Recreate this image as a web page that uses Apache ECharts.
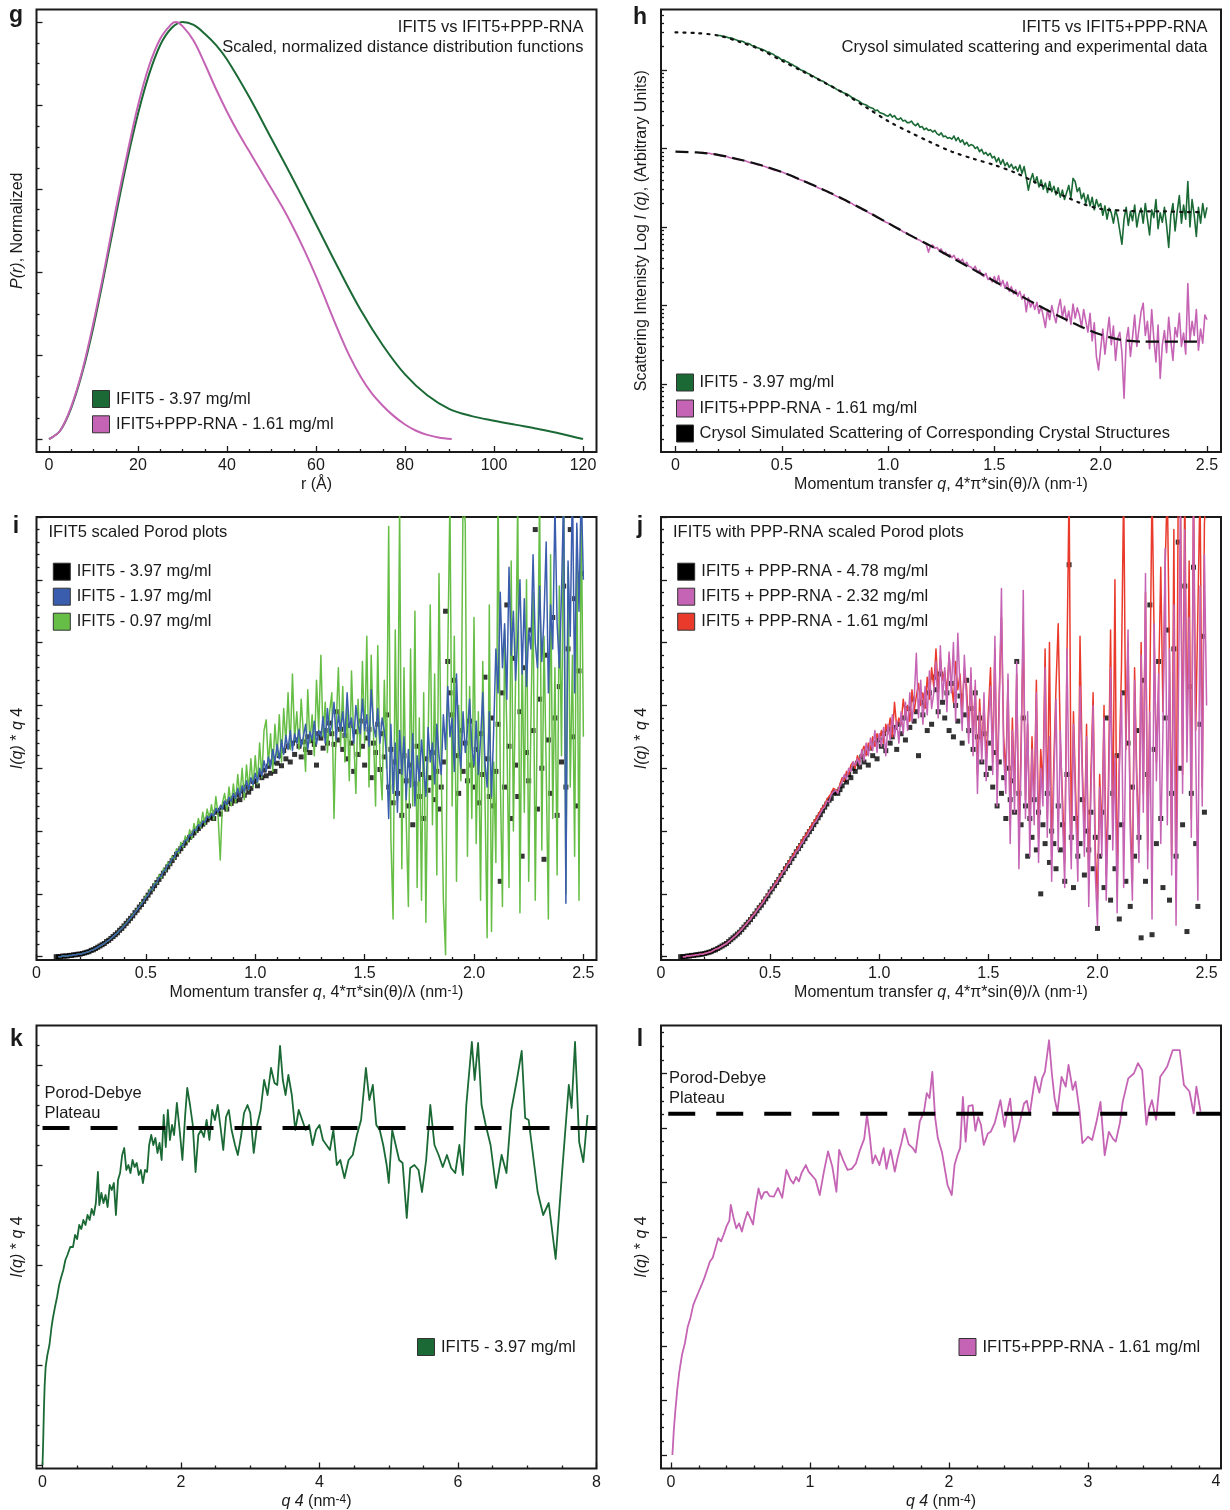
<!DOCTYPE html>
<html>
<head>
<meta charset="utf-8">
<title>IFIT5 SAXS panels g-l</title>
<script src="https://cdn.jsdelivr.net/npm/echarts@6/dist/echarts.min.js"></script>
<style>
html,body{margin:0;padding:0;background:#ffffff;}
#chart{width:1230px;height:1510px;}
</style>
</head>
<body>
<div id="chart"></div>
<script>
// ================= DATA =================
// --- panel g : P(r), normalized ---
const gR_IFIT5 = [0,2.5,5,7.5,10,12.5,15,17.5,20,22.5,25,27.5,30,32.5,35,37.5,40,45,50,55,60,65,70,75,80,85,90,95,100,105,110,115,120];
const gP_IFIT5 = [0,0.02,0.075,0.16,0.27,0.40,0.535,0.665,0.78,0.875,0.945,0.985,1.0,0.993,0.972,0.945,0.91,0.82,0.72,0.62,0.515,0.41,0.31,0.225,0.155,0.105,0.072,0.055,0.044,0.034,0.024,0.013,0.0];
const gR_RNA = [0,2.5,5,7.5,10,12.5,15,17.5,20,22.5,25,27.5,28.5,30,32.5,35,37.5,40,42.5,45,47.5,50,52.5,55,57.5,60,62.5,65,67.5,70,72.5,75,77.5,80,82.5,85,87.5,90.5];
const gP_RNA = [0,0.02,0.078,0.165,0.28,0.41,0.55,0.68,0.80,0.895,0.96,0.995,1.0,0.99,0.955,0.90,0.84,0.785,0.735,0.69,0.645,0.60,0.555,0.505,0.45,0.39,0.325,0.26,0.2,0.15,0.11,0.08,0.055,0.035,0.02,0.01,0.004,0];
const gXTicks = [0,20,40,60,80,100,120];
const gYTicks = [0,0.2,0.4,0.6,0.8,1.0];

// --- panel h : log10 I(q) ---
const hSimQ_IFIT5 = [0,0.1,0.2,0.3,0.4,0.5,0.6,0.7,0.8,0.9,1.0,1.1,1.2,1.3,1.4,1.5,1.6,1.7,1.8,1.9,2.0,2.1,2.2,2.3,2.4,2.48];
const hSimL_IFIT5 = [4.48,4.47,4.44,4.36,4.26,4.12,3.98,3.84,3.69,3.52,3.35,3.21,3.08,2.96,2.87,2.79,2.69,2.56,2.43,2.31,2.23,2.21,2.20,2.20,2.19,2.19];
const hSimQ_RNA = [0,0.1,0.2,0.3,0.4,0.5,0.6,0.7,0.8,0.9,1.0,1.1,1.2,1.3,1.4,1.5,1.6,1.7,1.8,1.9,2.0,2.1,2.2,2.3,2.4,2.48];
const hSimL_RNA = [2.96,2.95,2.92,2.86,2.79,2.70,2.59,2.47,2.34,2.20,2.05,1.90,1.76,1.61,1.46,1.31,1.16,1.01,0.87,0.74,0.63,0.56,0.54,0.54,0.54,0.54];
const hQ0_IFIT5 = 0.20, hQ0_RNA = 0.12, hDQ = 0.01;
const hL_IFIT5 = [
4.44,4.44,4.43,4.43,4.42,4.41,4.41,4.40,4.39,4.38,
4.37,4.37,4.36,4.34,4.34,4.33,4.31,4.31,4.29,4.28,
4.27,4.26,4.25,4.23,4.23,4.21,4.20,4.18,4.17,4.15,
4.13,4.13,4.11,4.10,4.08,4.07,4.05,4.04,4.02,4.00,
3.99,3.98,3.96,3.95,3.93,3.92,3.90,3.89,3.87,3.86,
3.85,3.83,3.81,3.80,3.79,3.77,3.75,3.74,3.73,3.71,
3.70,3.69,3.67,3.65,3.64,3.62,3.61,3.59,3.57,3.56,
3.55,3.53,3.52,3.51,3.48,3.49,3.46,3.45,3.44,3.42,
3.41,3.44,3.40,3.42,3.38,3.37,3.39,3.35,3.36,3.33,
3.33,3.35,3.31,3.29,3.32,3.27,3.28,3.24,3.26,3.23,
3.24,3.21,3.23,3.19,3.17,3.20,3.15,3.16,3.13,3.14,
3.12,3.16,3.10,3.14,3.08,3.11,3.05,3.08,3.03,3.05,
3.04,3.00,3.02,2.96,2.99,2.93,2.95,2.91,2.94,2.88,
2.90,2.83,2.88,2.80,2.86,2.78,2.82,2.76,2.80,2.74,
2.77,2.71,2.79,2.68,2.77,2.63,2.47,2.60,2.68,2.56,
2.64,2.51,2.60,2.48,2.56,2.44,2.58,2.45,2.52,2.41,
2.50,2.38,2.47,2.35,2.44,2.53,2.37,2.62,2.58,2.45,
2.50,2.36,2.43,2.30,2.41,2.27,2.38,2.22,2.35,2.26,
2.30,2.15,2.27,2.10,2.24,2.18,2.05,2.22,2.12,1.95,
1.78,2.10,2.25,2.02,2.20,2.08,2.28,2.00,2.16,2.24,
2.05,2.30,2.10,1.90,2.22,2.12,2.35,1.98,2.18,2.06,
2.25,2.02,1.74,2.15,2.30,1.95,2.20,2.40,2.05,2.28,
2.10,2.58,2.00,2.35,2.15,1.88,2.25,2.05,2.30,2.12,
2.25];
const hL_RNA = [
2.95,2.95,2.94,2.94,2.94,2.93,2.93,2.92,
2.92,2.91,2.91,2.90,2.90,2.89,2.88,2.88,2.87,2.86,
2.86,2.85,2.85,2.84,2.83,2.82,2.82,2.81,2.80,2.79,
2.79,2.78,2.77,2.76,2.75,2.74,2.73,2.72,2.72,2.71,
2.70,2.69,2.68,2.67,2.66,2.65,2.63,2.62,2.61,2.60,
2.59,2.58,2.57,2.55,2.54,2.53,2.52,2.50,2.49,2.48,
2.47,2.46,2.44,2.43,2.42,2.40,2.39,2.38,2.36,2.35,
2.34,2.32,2.31,2.30,2.28,2.27,2.25,2.24,2.22,2.21,
2.20,2.18,2.17,2.15,2.14,2.12,2.11,2.09,2.08,2.06,
2.05,2.04,2.02,2.00,1.99,1.98,1.96,1.94,1.93,1.92,
1.90,1.89,1.87,1.86,1.84,1.83,1.81,1.80,1.78,1.68,
1.76,1.77,1.73,1.74,1.70,1.72,1.66,1.68,1.64,1.65,
1.61,1.64,1.58,1.60,1.56,1.59,1.52,1.55,1.50,1.49,
1.46,1.50,1.42,1.45,1.39,1.37,1.41,1.33,1.36,1.30,
1.37,1.28,1.38,1.25,1.32,1.22,1.30,1.18,1.24,1.15,
1.20,1.12,1.18,1.08,1.14,0.92,1.10,0.98,1.05,0.95,
1.04,0.90,0.99,0.86,0.72,0.95,0.82,1.00,0.88,0.78,
0.96,1.08,0.85,0.99,0.80,0.93,0.76,1.02,0.84,0.97,
0.88,0.72,0.95,0.80,0.66,0.90,0.55,0.78,0.35,0.18,
0.45,0.70,0.38,0.62,0.85,0.50,0.74,0.30,0.58,0.66,
0.40,-0.18,0.55,0.72,0.35,0.60,0.88,0.48,0.70,0.92,
1.03,0.62,0.80,0.45,0.95,0.58,0.28,0.75,0.07,0.50,
0.68,0.40,0.85,0.55,0.30,0.72,0.60,0.90,0.48,0.65,
0.38,1.28,0.55,0.80,0.62,0.95,0.43,0.70,0.52,0.88,
0.82];
const hXTicks = [0,0.5,1,1.5,2,2.5];
const hYTicks = [0,1,2,3,4];

// --- panel i : IFIT5 Porod, I(q)*q^4 ---
const iQ0_397 = 0.09, iQ0_197 = 0.10, iQ0_097 = 0.10, iDQ = 0.01;
const iY_397 = [
0.00,0.00,0.00,0.01,0.01,0.01,0.02,0.02,0.03,0.03,0.04,
0.04,0.05,0.06,0.07,0.08,0.10,0.11,0.13,0.15,0.17,
0.19,0.21,0.24,0.26,0.29,0.32,0.35,0.38,0.42,0.45,
0.49,0.53,0.57,0.61,0.65,0.70,0.74,0.79,0.83,0.88,
0.93,0.98,1.03,1.08,1.13,1.18,1.23,1.28,1.33,1.38,
1.43,1.48,1.53,1.58,1.63,1.68,1.72,1.77,1.81,1.86,
1.90,1.93,1.97,2.01,2.04,2.08,2.11,2.14,2.18,2.21,
2.24,2.20,2.30,2.33,2.27,2.38,2.43,2.35,2.47,2.44,
2.52,2.48,2.58,2.50,2.64,2.57,2.70,2.62,2.68,2.79,
2.80,2.72,2.90,2.85,2.97,2.88,3.03,2.92,3.10,2.95,
3.08,3.20,3.04,3.28,3.15,3.35,3.10,3.40,3.22,3.45,
3.35,3.18,3.42,3.30,3.50,3.25,3.44,3.38,3.05,3.55,
3.48,3.32,3.60,3.40,3.72,3.55,3.38,3.90,3.45,3.62,
3.30,3.52,3.15,3.68,3.40,2.95,3.58,3.22,3.75,3.35,
3.05,3.48,3.62,2.85,3.40,3.25,3.70,2.98,3.55,3.18,
3.85,2.70,3.30,2.45,3.10,2.60,2.95,2.25,3.20,2.80,
2.40,3.05,2.10,2.75,3.35,2.55,2.90,2.20,3.15,2.65,
2.85,3.25,2.50,2.95,2.35,2.70,3.10,5.50,4.70,4.20,
3.85,4.40,3.20,2.60,3.60,2.95,3.40,2.80,3.75,3.05,
2.70,3.30,2.45,3.55,2.90,4.45,3.15,2.55,3.80,2.40,
2.95,3.70,1.20,4.20,2.70,5.60,3.35,2.20,4.75,3.05,
2.55,3.90,1.60,4.60,3.25,2.80,5.20,3.60,6.80,2.35,
4.10,3.00,1.55,4.80,3.45,2.60,5.40,3.80,2.25,4.30,
3.10,5.90,2.70,4.90,6.80,3.50,5.70,2.40,4.55,6.10];
const iY_197 = [
0.00,0.00,0.01,0.01,0.01,0.02,0.02,0.03,0.03,0.04,
0.04,0.05,0.06,0.07,0.08,0.10,0.11,0.13,0.15,0.17,
0.19,0.21,0.24,0.26,0.29,0.32,0.35,0.38,0.42,0.45,
0.49,0.53,0.57,0.62,0.65,0.71,0.74,0.80,0.83,0.89,
0.94,0.98,1.05,1.08,1.15,1.18,1.26,1.28,1.36,1.38,
1.46,1.49,1.56,1.58,1.67,1.68,1.76,1.77,1.85,1.86,
1.94,1.93,2.02,2.01,2.10,2.08,2.15,2.14,2.23,2.21,
2.28,2.24,2.36,2.30,2.40,2.35,2.48,2.42,2.54,2.47,
2.60,2.52,2.68,2.55,2.72,2.62,2.80,2.66,2.85,2.74,
2.92,2.78,3.00,2.88,3.12,2.95,3.18,3.02,3.30,3.10,
3.38,3.15,3.45,3.22,3.52,3.30,3.60,3.28,3.55,3.40,
3.62,3.35,3.50,3.70,3.30,3.58,3.45,3.75,3.38,3.60,
3.50,3.82,3.40,3.95,3.55,3.70,4.05,3.45,3.85,3.60,
3.90,3.50,4.20,3.65,3.80,3.40,4.00,3.70,3.55,4.10,
3.60,3.85,3.35,4.25,3.70,3.50,3.95,3.40,3.80,3.60,
3.20,2.20,3.70,2.60,3.40,2.30,3.60,2.90,3.50,2.50,
3.30,2.70,3.55,2.40,3.20,2.80,3.45,3.00,2.55,3.65,
3.10,3.40,2.75,3.70,3.20,2.90,3.85,3.30,4.30,3.50,
3.80,2.95,4.50,3.40,3.00,3.90,3.25,3.60,4.10,3.35,
3.05,3.75,2.90,3.45,4.20,3.10,2.70,3.90,2.55,3.60,
4.90,4.20,5.80,4.60,5.30,4.10,6.20,4.80,5.50,4.40,
5.10,6.00,4.50,5.70,4.30,5.20,4.90,6.40,5.00,4.60,
5.90,4.70,5.40,6.60,4.20,5.60,4.90,7.20,5.30,4.60,
5.80,7.40,0.85,6.30,5.10,7.60,4.20,6.90,5.50,7.50,
6.00];
const iY_097 = [
0.00,0.00,0.01,0.01,0.01,0.02,0.02,0.03,0.03,0.04,
0.04,0.05,0.06,0.07,0.08,0.10,0.11,0.13,0.15,0.17,
0.19,0.21,0.24,0.26,0.29,0.32,0.35,0.38,0.42,0.45,
0.50,0.53,0.58,0.61,0.67,0.70,0.76,0.79,0.86,0.88,
0.97,0.98,1.08,1.06,1.18,1.16,1.30,1.25,1.40,1.36,
1.50,1.46,1.60,1.55,1.72,1.64,1.82,1.74,1.92,1.82,
2.02,1.88,2.12,1.98,2.20,2.05,2.30,2.10,2.35,2.20,
2.42,2.18,2.55,2.25,1.54,2.45,2.60,2.32,2.70,2.40,
2.75,2.45,2.90,2.55,3.00,2.50,3.05,2.65,3.15,2.70,
3.20,2.75,3.40,2.85,3.60,3.77,3.05,3.55,2.95,3.70,
3.20,3.85,3.10,3.95,3.40,4.20,3.30,4.50,3.45,3.90,
3.30,4.10,3.55,2.95,4.25,3.40,3.85,3.20,4.40,3.60,
4.80,3.50,4.05,3.25,3.90,4.20,2.20,3.70,4.60,3.35,
4.30,3.10,3.95,2.80,4.55,3.50,2.60,4.10,3.20,4.70,
3.40,5.10,2.70,4.80,3.60,2.40,4.95,3.10,2.50,4.40,
3.00,6.85,1.90,0.60,5.20,2.50,7.20,1.40,4.60,2.20,
0.80,4.90,2.40,5.50,1.10,3.80,0.90,4.20,0.55,3.40,
5.60,2.10,4.50,1.30,6.10,3.00,0.90,0.03,4.80,7.30,
2.40,5.10,1.20,4.00,2.80,7.40,6.90,1.60,4.30,2.20,
5.40,1.80,3.90,0.90,4.70,2.60,0.30,5.60,0.40,3.10,
1.50,7.50,2.90,0.80,5.20,3.60,1.10,6.30,2.00,4.40,
7.30,0.70,4.90,2.30,6.00,1.20,3.70,5.80,0.90,4.20,
7.40,1.70,5.10,3.00,0.60,6.40,2.20,4.60,1.30,5.90,
3.20,7.50,1.00,6.20,2.70,4.80,1.60,6.80,0.90,7.30,
3.50];
const iXTicks = [0,0.5,1,1.5,2,2.5];
const iYTicks = [0,1,2,3,4,5,6,7];

// --- panel j : IFIT5 + PPP-RNA Porod, I(q)*q^4 ---
const jQ0_478 = 0.09, jQ0_232 = 0.10, jQ0_161 = 0.10, jDQ = 0.01;
const jY_478 = [
0.00,0.00,0.00,0.01,0.01,0.02,0.02,0.03,0.03,0.04,0.04,
0.05,0.06,0.07,0.08,0.10,0.11,0.13,0.15,0.17,0.19,
0.21,0.24,0.27,0.30,0.33,0.36,0.39,0.43,0.47,0.51,
0.55,0.59,0.64,0.68,0.73,0.78,0.82,0.87,0.92,0.97,
1.03,1.08,1.13,1.18,1.23,1.29,1.34,1.40,1.45,1.50,
1.56,1.61,1.67,1.72,1.77,1.83,1.88,1.94,1.99,2.04,
2.10,2.15,2.21,2.26,2.32,2.38,2.43,2.49,2.52,2.60,
2.62,2.60,2.66,2.72,2.82,2.78,2.90,2.85,3.00,2.95,
3.08,3.02,3.18,3.10,3.25,3.05,3.32,3.20,3.40,3.15,
3.45,3.35,3.55,3.28,3.62,3.40,3.50,3.65,3.30,3.70,
3.55,3.80,3.45,3.95,3.65,4.10,3.75,3.90,3.20,4.05,
3.85,4.00,3.60,4.20,3.70,4.45,4.25,3.90,4.50,4.05,
3.80,4.20,3.60,4.35,3.50,4.00,3.75,4.15,3.40,3.85,
4.40,3.60,3.95,3.30,4.20,3.50,3.80,3.10,3.55,2.90,
3.40,3.00,2.70,3.25,2.40,3.10,2.60,2.85,2.20,3.00,
2.50,2.80,2.30,4.70,2.60,2.10,3.80,2.40,1.60,2.20,
1.90,2.50,1.70,2.30,1.00,2.10,1.80,2.60,1.50,2.00,
1.80,1.40,2.40,1.70,2.10,1.20,2.90,6.24,1.90,1.10,
2.20,1.60,1.80,2.50,1.30,2.00,1.70,2.30,1.40,1.90,
0.45,1.60,2.30,1.10,3.80,1.90,0.90,2.60,1.40,3.20,
0.60,2.10,4.20,1.20,3.40,0.80,2.70,1.60,3.60,1.90,
0.30,4.40,1.20,2.90,5.60,0.35,3.30,1.80,4.70,2.20,
1.10,3.80,5.20,0.90,2.60,4.90,1.60,6.60,3.00,2.10,
5.90,0.40,4.30,2.60,6.20,1.80,0.80,3.70,5.10,2.30];
const jY_232 = [
0.00,0.00,0.01,0.01,0.02,0.02,0.03,0.03,0.04,0.04,
0.05,0.06,0.07,0.08,0.10,0.12,0.13,0.15,0.17,0.19,
0.21,0.24,0.27,0.30,0.33,0.36,0.40,0.43,0.48,0.51,
0.56,0.59,0.65,0.68,0.74,0.78,0.83,0.87,0.94,0.98,
1.05,1.07,1.15,1.17,1.25,1.28,1.36,1.38,1.47,1.49,
1.58,1.60,1.68,1.70,1.78,1.82,1.90,1.93,2.00,2.04,
2.12,2.15,2.22,2.28,2.35,2.38,2.48,2.46,2.58,2.62,
2.65,2.60,2.72,2.78,2.90,2.82,3.00,2.95,3.10,3.05,
3.15,3.05,3.30,3.12,3.40,3.20,3.48,3.28,3.60,3.25,
3.55,3.35,3.65,3.20,3.70,3.45,3.85,3.50,3.75,3.40,
3.90,3.55,4.05,3.60,4.20,3.75,4.10,4.83,3.80,4.40,
3.70,4.30,3.85,4.55,3.95,4.20,4.70,3.80,4.95,4.10,
4.60,3.90,4.85,4.20,5.00,3.75,5.15,4.30,3.60,4.80,
4.10,3.40,4.60,3.20,4.40,2.60,3.90,3.10,4.20,2.80,
3.70,4.30,2.90,5.10,2.40,4.00,5.86,3.20,2.60,4.50,
1.80,3.60,2.30,4.70,1.40,3.10,5.83,2.20,3.90,1.60,
3.30,2.10,4.20,1.50,3.00,2.40,4.60,1.90,3.50,1.20,
2.80,4.10,1.70,3.60,2.20,1.10,4.90,2.60,1.40,3.70,
2.30,1.20,4.30,2.90,1.60,3.50,0.80,2.60,4.00,1.30,
0.50,2.70,1.60,3.80,0.90,2.40,4.60,1.70,3.20,0.70,
2.90,4.20,1.10,3.50,5.20,2.00,0.90,4.40,2.70,1.50,
4.80,2.30,6.10,1.40,3.90,0.60,5.30,2.80,4.50,1.80,
3.60,6.50,2.10,4.90,1.30,5.60,0.50,3.80,7.30,2.60,
6.80,3.10,5.40,1.90,7.30,3.30,0.90,5.90,2.40,6.40,
4.00];
const jY_161 = [
0.00,0.00,0.01,0.01,0.02,0.02,0.03,0.03,0.04,0.04,
0.05,0.06,0.07,0.08,0.10,0.12,0.13,0.15,0.17,0.19,
0.21,0.24,0.27,0.30,0.33,0.37,0.40,0.44,0.48,0.52,
0.56,0.61,0.65,0.70,0.74,0.80,0.83,0.90,0.94,1.00,
1.04,1.10,1.14,1.21,1.25,1.32,1.36,1.43,1.47,1.54,
1.58,1.65,1.69,1.76,1.80,1.88,1.92,1.98,2.03,2.10,
2.14,2.20,2.26,2.32,2.38,2.42,2.50,2.55,2.60,2.68,
2.66,2.62,2.75,2.85,2.80,2.95,2.90,3.05,3.10,3.00,
3.20,3.10,3.25,3.35,3.20,3.40,3.30,3.50,3.35,3.55,
3.45,3.60,3.40,3.70,3.55,3.80,3.50,4.05,3.65,3.80,
3.70,4.10,3.85,4.00,3.75,4.25,3.90,4.15,4.35,4.00,
4.20,3.95,4.45,4.10,4.60,4.30,4.90,4.20,4.75,4.40,
4.55,4.20,4.80,4.35,4.05,4.70,4.25,4.50,3.90,4.60,
4.30,3.60,4.50,3.40,4.30,2.90,4.10,3.30,4.00,3.10,
3.90,4.60,3.10,4.90,2.70,4.20,5.40,3.50,2.90,4.40,
2.10,3.80,2.60,4.50,1.90,3.40,5.20,2.50,3.70,2.00,
3.50,2.40,4.40,1.90,3.30,2.70,4.90,2.20,5.00,1.60,
3.10,4.30,5.30,3.40,2.50,1.50,4.70,7.50,1.80,3.90,
2.60,1.60,5.10,3.10,1.90,3.70,1.20,2.90,4.20,1.70,
0.90,2.90,1.90,4.00,1.30,2.70,5.20,2.00,6.00,1.10,
3.10,4.60,7.50,3.30,5.00,2.30,1.20,4.60,2.90,1.80,
5.00,2.60,5.80,1.70,4.20,7.50,5.00,3.10,4.30,6.20,
3.90,6.20,7.50,4.70,1.60,6.80,0.90,7.50,7.50,2.90,
7.50,3.40,6.30,2.20,7.50,3.60,5.50,7.50,2.70,6.90,
7.50];
const jXTicks = [0,0.5,1,1.5,2,2.5];
const jYTicks = [0,1,2,3,4,5,6,7];

// --- panel k : IFIT5 Porod-Debye, I(q)*q^4 vs q^4 ---
const kX = [0,0.01,0.02,0.03,0.045,0.07,0.10,0.13,0.15,0.18,
0.21,0.24,0.27,0.30,0.33,0.36,0.40,0.44,0.47,0.50,
0.53,0.56,0.59,0.62,0.65,0.68,0.71,0.74,0.77,0.80,
0.82,0.85,0.88,0.91,0.94,0.97,1.00,1.03,1.06,1.09,
1.12,1.15,1.18,1.21,1.24,1.27,1.30,1.33,1.36,1.39,
1.42,1.45,1.48,1.51,1.54,1.57,1.60,1.63,1.66,1.69,
1.72,1.75,1.78,1.81,1.84,1.87,1.90,1.94,1.98,2.02,
2.06,2.09,2.13,2.17,2.21,2.25,2.29,2.33,2.37,2.41,
2.45,2.49,2.53,2.57,2.61,2.65,2.69,2.73,2.78,2.82,
2.87,2.91,2.96,3.00,3.05,3.10,3.15,3.20,3.25,3.30,
3.35,3.39,3.43,3.47,3.51,3.55,3.60,3.65,3.70,3.75,
3.80,3.85,3.90,3.95,4.00,4.05,4.10,4.15,4.20,4.25,
4.30,4.36,4.42,4.48,4.54,4.60,4.67,4.72,4.77,4.82,
4.87,4.92,4.97,5.00,5.05,5.10,5.15,5.20,5.26,5.31,
5.37,5.43,5.48,5.54,5.60,5.66,5.72,5.78,5.84,5.90,
5.96,6.02,6.07,6.12,6.20,6.24,6.29,6.34,6.40,6.47,
6.55,6.63,6.70,6.77,6.85,6.92,6.97,7.02,7.15,7.23,
7.31,7.41,7.50,7.60,7.64,7.69,7.75,7.81,7.87];
const kY = [0,0.25,0.55,0.78,0.98,1.10,1.20,1.38,1.47,1.58,
1.68,1.80,1.88,1.95,2.05,2.10,2.18,2.18,2.30,2.26,
2.40,2.36,2.45,2.40,2.50,2.45,2.56,2.50,2.62,2.93,
2.60,2.72,2.62,2.70,2.58,2.80,2.75,2.82,2.50,2.85,
2.92,3.10,3.17,2.95,3.00,2.92,3.05,2.98,3.02,2.90,
2.95,2.82,2.95,2.93,3.20,3.30,3.20,3.27,3.12,3.22,
3.05,3.50,3.18,3.55,3.25,3.40,3.30,3.62,3.35,3.05,
3.50,3.77,3.60,3.40,2.93,3.30,3.35,3.28,3.45,3.25,
3.55,3.45,3.60,3.38,3.15,3.48,3.55,3.35,3.20,3.10,
3.30,3.52,3.60,3.52,3.12,3.40,3.55,3.85,3.70,3.97,
3.82,3.80,4.19,3.85,3.70,3.90,3.70,3.35,3.55,3.45,
3.35,3.40,3.20,3.35,3.40,3.25,3.20,3.15,3.35,3.00,
3.05,2.87,3.05,3.10,3.30,3.45,3.97,3.65,3.80,3.40,
3.35,3.20,3.00,2.82,3.35,3.20,3.05,3.02,2.47,2.97,
3.00,2.95,2.73,3.05,3.60,3.20,3.10,2.98,3.10,2.97,
2.92,3.20,2.90,3.60,4.23,3.85,4.22,3.60,3.40,3.20,
2.77,3.10,2.92,3.55,3.85,4.14,3.47,3.45,2.73,2.50,
2.62,2.06,2.90,3.80,3.57,4.23,3.23,3.03,3.50];
const kPlateau = 3.37;
const kPlateauX = [0, 8];
const kXTicks = [0,2,4,6,8];
const kYTicks = [0,1,2,3,4];

// --- panel l : IFIT5+PPP-RNA Porod-Debye ---
const lX = [0.01,0.02,0.03,0.045,0.06,0.08,0.10,0.12,0.14,0.16,
0.18,0.20,0.22,0.24,0.26,0.28,0.30,0.32,0.34,0.36,
0.38,0.40,0.42,0.43,0.45,0.47,0.49,0.51,0.53,0.55,
0.57,0.59,0.61,0.63,0.65,0.67,0.69,0.71,0.74,0.77,
0.80,0.83,0.86,0.88,0.90,0.92,0.94,0.97,0.99,1.01,
1.04,1.07,1.10,1.13,1.16,1.19,1.21,1.24,1.27,1.30,
1.33,1.36,1.39,1.41,1.43,1.45,1.47,1.50,1.53,1.55,
1.58,1.61,1.63,1.66,1.68,1.71,1.74,1.76,1.79,1.82,
1.84,1.86,1.88,1.90,1.92,1.95,1.99,2.02,2.04,2.06,
2.08,2.10,2.12,2.14,2.17,2.19,2.21,2.23,2.25,2.28,
2.30,2.33,2.37,2.40,2.42,2.44,2.47,2.50,2.54,2.56,
2.58,2.62,2.65,2.67,2.69,2.72,2.74,2.76,2.78,2.81,
2.84,2.86,2.89,2.91,2.94,2.96,3.00,3.03,3.06,3.09,
3.12,3.15,3.18,3.20,3.23,3.25,3.29,3.33,3.36,3.39,
3.42,3.44,3.46,3.49,3.52,3.55,3.57,3.61,3.66,3.69,
3.73,3.76,3.78,3.81];
const lY = [0.00,0.45,0.78,1.20,1.53,1.85,2.05,2.35,2.52,2.75,
2.88,3.00,3.12,3.25,3.40,3.55,3.62,3.80,3.98,3.92,
4.05,4.20,4.30,4.59,4.35,4.16,4.25,4.10,4.30,4.46,
4.35,4.23,4.60,4.89,4.70,4.82,4.83,4.75,4.74,4.90,
4.72,5.23,5.05,4.98,5.10,5.02,5.18,5.32,5.20,5.14,
5.05,4.77,5.20,5.57,5.30,4.83,5.60,5.40,5.23,5.25,
5.35,5.60,5.80,6.24,5.85,5.35,5.50,5.32,5.63,5.25,
5.60,5.20,5.45,5.75,5.99,5.70,5.63,5.55,6.12,6.30,
6.64,6.55,7.03,6.20,5.81,5.55,4.95,4.77,5.32,5.50,
5.63,6.57,5.75,6.40,6.42,5.95,6.20,6.06,5.69,5.90,
5.93,6.10,6.51,6.02,6.30,6.54,5.75,6.00,6.45,6.50,
6.24,6.94,6.65,6.91,7.03,7.61,7.00,6.54,6.30,6.94,
6.76,7.16,6.70,6.85,6.30,5.72,5.84,5.78,6.10,6.48,
5.50,5.93,5.80,5.75,6.10,6.48,6.91,7.00,7.19,7.06,
6.06,6.35,6.51,6.15,6.94,7.05,7.13,7.43,7.43,6.79,
6.67,6.27,6.76,6.30];
const lPlateau = 6.26;
const lPlateauX = [-0.02, 3.957];
const lXTicks = [0,1,2,3];
const lYTicks = [0,1,2,3,4,5,6,7];

// ================= STYLE =================
const FONT = '"Liberation Sans", Arial, Helvetica, sans-serif';
const INK = '#1a1a1a';
const DKGREEN = '#1b6a36', PINK = '#c564b4', BLUE = '#3b5dad', LTGREEN = '#67be46', RED = '#ea3a2c';

function zip(xs, ys) { return xs.map((x, i) => [x, ys[i]]); }
function onGrid(q0, dq, vals) { return vals.map((v, i) => [+(q0 + i * dq).toFixed(4), v]); }
function between(a, b, step, majors, lo, hi) {
  const out = [], n = Math.round((b - a) / step);
  for (let k = 0; k <= n; k++) {
    const v = +(a + k * step).toFixed(6);
    if (v < lo || v > hi) continue;
    if (!majors.some(m => Math.abs(m - v) < 1e-6)) out.push(v);
  }
  return out;
}
function logMinors(lo, hi) {
  const out = [];
  for (let d = -1; d <= 5; d++) for (let k = 2; k <= 9; k++) {
    const v = d + Math.log10(k);
    if (v > lo && v < hi) out.push(+v.toFixed(5));
  }
  return out;
}
const fmtQ = v => (v === 0 ? '0' : v.toFixed(1));
const fmtInt = v => String(Math.round(v));

const RICH = {
  a: { fontSize: 16, fontFamily: FONT, color: INK },
  it: { fontStyle: 'italic', fontSize: 16, fontFamily: FONT, color: INK },
  sup: { fontSize: 12, fontFamily: FONT, color: INK, verticalAlign: 'top' }
};
const NAME_X = '{a|Momentum transfer }{it|q}{a|, 4*π*sin(θ)/λ (nm}{sup|-1}{a|)}';
const NAME_IQ4 = '{it|I(q)}{a| * }{it|q}{a| 4}';
const NAME_Q4 = '{it|q 4}{a| (nm}{sup|-4}{a|)}';

const panels = [
  { g: { left: 36.5, top: 9.5, width: 560, height: 442.5 },
    x: { min: -2.81, max: 123.03, major: gXTicks, minor: between(0, 120, 5, gXTicks, -2.81, 123.03), fmt: fmtInt, name: '{a|r (Å)}' },
    y: { min: -0.031, max: 1.030, major: gYTicks, minor: between(0, 1, 0.05, gYTicks, -0.031, 1.03), name: '{it|P(r)}{a|, Normalized}' } },
  { g: { left: 661, top: 9.5, width: 560, height: 442.5 },
    x: { min: -0.068, max: 2.566, major: hXTicks, minor: between(0, 2.5, 0.1, hXTicks, -0.068, 2.566), fmt: fmtQ, name: NAME_X },
    y: { min: -0.866, max: 4.771, major: hYTicks, minor: logMinors(-0.866, 4.771), name: '{a|Scattering Intenisty Log }{it|I (q)}{a|, (Arbitrary Units)}' } },
  { g: { left: 36.5, top: 517, width: 560, height: 443 },
    x: { min: 0, max: 2.56, major: iXTicks, minor: between(0, 2.5, 0.1, iXTicks, 0, 2.56), fmt: fmtQ, name: NAME_X },
    y: { min: -0.053, max: 7.0, major: iYTicks, minor: between(0, 7, 0.2, iYTicks, -0.053, 7), name: NAME_IQ4 } },
  { g: { left: 661, top: 517, width: 560, height: 443 },
    x: { min: 0, max: 2.566, major: jXTicks, minor: between(0, 2.5, 0.1, jXTicks, 0, 2.566), fmt: fmtQ, name: NAME_X },
    y: { min: -0.053, max: 7.0, major: jYTicks, minor: between(0, 7, 0.2, jYTicks, -0.053, 7), name: NAME_IQ4 } },
  { g: { left: 36.5, top: 1025.5, width: 560, height: 443 },
    x: { min: -0.087, max: 8, major: kXTicks, minor: between(0, 8, 0.5, kXTicks, -0.087, 8), fmt: fmtInt, name: NAME_Q4 },
    y: { min: -0.035, max: 4.395, major: kYTicks, minor: between(0, 4.4, 0.2, kYTicks, -0.035, 4.395), name: NAME_IQ4 } },
  { g: { left: 661, top: 1025.5, width: 560, height: 443 },
    x: { min: -0.072, max: 3.957, major: lXTicks, minor: between(0, 3.8, 0.2, lXTicks, -0.072, 3.957), fmt: fmtInt, name: NAME_Q4 },
    y: { min: -0.248, max: 7.881, major: lYTicks, minor: between(0, 7.75, 0.25, lYTicks, -0.248, 7.881), name: NAME_IQ4 } }
];

const grid = [], xAxis = [], yAxis = [];
panels.forEach((p, gi) => {
  grid.push(Object.assign({ show: true, borderColor: INK, borderWidth: 2, backgroundColor: 'rgba(0,0,0,0)', containLabel: false, outerBoundsMode: 'none' }, p.g));
  const tickStyle = { color: INK, width: 1.3 };
  const hiddenLine = { show: false, onZero: false };
  xAxis.push({
    type: 'value', gridIndex: gi, min: p.x.min, max: p.x.max, position: 'bottom',
    axisLine: hiddenLine, splitLine: { show: false },
    axisTick: { show: true, inside: true, length: 6, customValues: p.x.major, lineStyle: tickStyle },
    axisLabel: { show: true, customValues: p.x.major, formatter: p.x.fmt, margin: 6, color: INK, fontSize: 16, fontFamily: FONT },
    name: p.x.name, nameLocation: 'middle', nameGap: 25, nameMoveOverlap: false,
    nameTextStyle: { fontSize: 16, fontFamily: FONT, color: INK, rich: RICH }
  });
  xAxis.push({
    type: 'value', gridIndex: gi, min: p.x.min, max: p.x.max, position: 'bottom',
    axisLine: hiddenLine, splitLine: { show: false },
    axisTick: { show: true, inside: true, length: 3, customValues: p.x.minor, lineStyle: tickStyle },
    axisLabel: { show: false }
  });
  yAxis.push({
    type: 'value', gridIndex: gi, min: p.y.min, max: p.y.max, position: 'left',
    axisLine: hiddenLine, splitLine: { show: false },
    axisTick: { show: true, inside: true, length: 6, customValues: p.y.major, lineStyle: tickStyle },
    axisLabel: { show: false },
    name: p.y.name, nameLocation: 'middle', nameGap: 11, nameMoveOverlap: false,
    nameTextStyle: { fontSize: 16, fontFamily: FONT, color: INK, rich: RICH }
  });
  yAxis.push({
    type: 'value', gridIndex: gi, min: p.y.min, max: p.y.max, position: 'left',
    axisLine: hiddenLine, splitLine: { show: false },
    axisTick: { show: true, inside: true, length: 3, customValues: p.y.minor, lineStyle: tickStyle },
    axisLabel: { show: false }
  });
});

function lineS(panel, name, data, color, width, extra) {
  return Object.assign({
    type: 'line', name, xAxisIndex: panel * 2, yAxisIndex: panel * 2, data,
    symbol: 'none', showSymbol: false, clip: true, silent: true, animation: false,
    lineStyle: { color, width, join: 'round' }, emphasis: { disabled: true }
  }, extra || {});
}
function squares(panel, name, data) {
  return {
    type: 'scatter', name, xAxisIndex: panel * 2, yAxisIndex: panel * 2, data,
    symbol: 'rect', symbolSize: 5, itemStyle: { color: '#000' }, clip: true, silent: true, animation: false,
    emphasis: { disabled: true }
  };
}

const series = [
  // g
  lineS(0, 'g IFIT5 - 3.97 mg/ml', zip(gR_IFIT5, gP_IFIT5), DKGREEN, 2, { smooth: 0.35 }),
  lineS(0, 'g IFIT5+PPP-RNA - 1.61 mg/ml', zip(gR_RNA, gP_RNA), PINK, 2, { smooth: 0.35 }),
  // h
  lineS(1, 'h IFIT5 - 3.97 mg/ml', onGrid(hQ0_IFIT5, hDQ, hL_IFIT5), DKGREEN, 1.6),
  lineS(1, 'h IFIT5+PPP-RNA - 1.61 mg/ml', onGrid(hQ0_RNA, hDQ, hL_RNA), PINK, 1.6),
  lineS(1, 'h Crysol IFIT5', zip(hSimQ_IFIT5, hSimL_IFIT5), '#111', 2.2, { smooth: 0.3, lineStyle: { color: '#111', width: 2.2, type: [2, 6], cap: 'round' } }),
  lineS(1, 'h Crysol IFIT5+PPP-RNA', zip(hSimQ_RNA, hSimL_RNA), '#111', 2, { smooth: 0.3, lineStyle: { color: '#111', width: 2.2, type: [13, 6] } }),
  // i
  lineS(2, 'i IFIT5 - 0.97 mg/ml', onGrid(iQ0_097, iDQ, iY_097), LTGREEN, 1.5),
  lineS(2, 'i IFIT5 - 1.97 mg/ml', onGrid(iQ0_197, iDQ, iY_197), BLUE, 1.5),
  squares(2, 'i IFIT5 - 3.97 mg/ml', onGrid(iQ0_397, iDQ, iY_397)),
  // j
  lineS(3, 'j IFIT5 + PPP-RNA - 1.61 mg/ml', onGrid(jQ0_161, jDQ, jY_161), RED, 1.5),
  lineS(3, 'j IFIT5 + PPP-RNA - 2.32 mg/ml', onGrid(jQ0_232, jDQ, jY_232), PINK, 1.5),
  squares(3, 'j IFIT5 + PPP-RNA - 4.78 mg/ml', onGrid(jQ0_478, jDQ, jY_478)),
  // k
  lineS(4, 'k IFIT5 - 3.97 mg/ml', zip(kX, kY), DKGREEN, 1.8),
  lineS(4, 'k plateau', kPlateauX.map(x => [x, kPlateau]), '#000', 4, { lineStyle: { color: '#000', width: 4, type: [27, 21], cap: 'butt' } }),
  // l
  lineS(5, 'l IFIT5+PPP-RNA - 1.61 mg/ml', zip(lX, lY), PINK, 1.8),
  lineS(5, 'l plateau', lPlateauX.map(x => [x, lPlateau]), '#000', 4, { lineStyle: { color: '#000', width: 4, type: [27, 21], cap: 'butt' } })
];

// ---------- annotations (titles, legends, panel letters) ----------
function txt(x, y, text, o) {
  return { type: 'text', x, y, silent: true, z: 50,
    style: Object.assign({ text, fill: INK, font: '16.5px ' + FONT, textAlign: 'left', textVerticalAlign: 'middle' }, o || {}) };
}
function sq(x, y, color) {
  return { type: 'rect', silent: true, z: 50, shape: { x, y, width: 17, height: 17 }, style: { fill: color, stroke: '#333', lineWidth: 1 } };
}
function letter(x, y, t) { return txt(x, y, t, { font: 'bold 23px ' + FONT, textAlign: 'center' }); }

const graphic = [
  letter(16, 16, 'g'), letter(640, 18, 'h'), letter(16, 527, 'i'), letter(640, 527, 'j'), letter(16.5, 1040, 'k'), letter(640, 1040, 'l'),
  // g
  txt(583.5, 27.5, 'IFIT5 vs IFIT5+PPP-RNA', { textAlign: 'right' }),
  txt(583.5, 47.5, 'Scaled, normalized distance distribution functions', { textAlign: 'right' }),
  sq(92.5, 390.5, DKGREEN), txt(116, 399, 'IFIT5 - 3.97 mg/ml'),
  sq(92.5, 415.8, PINK), txt(116, 424.3, 'IFIT5+PPP-RNA - 1.61 mg/ml'),
  // h
  txt(1207.5, 27.5, 'IFIT5 vs IFIT5+PPP-RNA', { textAlign: 'right' }),
  txt(1207.5, 47.5, 'Crysol simulated scattering and experimental data', { textAlign: 'right' }),
  sq(676.5, 374, DKGREEN), txt(699.5, 382.5, 'IFIT5 - 3.97 mg/ml'),
  sq(676.5, 400, PINK), txt(699.5, 408.5, 'IFIT5+PPP-RNA - 1.61 mg/ml'),
  sq(676.5, 425, '#000'), txt(699.5, 433.5, 'Crysol Simulated Scattering of Corresponding Crystal Structures'),
  // i
  txt(48.5, 532.5, 'IFIT5 scaled Porod plots'),
  sq(53.3, 563.2, '#000'), txt(76.7, 571.7, 'IFIT5 - 3.97 mg/ml'),
  sq(53.3, 588.2, BLUE), txt(76.7, 596.7, 'IFIT5 - 1.97 mg/ml'),
  sq(53.3, 613.2, LTGREEN), txt(76.7, 621.7, 'IFIT5 - 0.97 mg/ml'),
  // j
  txt(673, 532.5, 'IFIT5 with PPP-RNA scaled Porod plots'),
  sq(677.7, 563.2, '#000'), txt(701.3, 571.7, 'IFIT5 + PPP-RNA - 4.78 mg/ml'),
  sq(677.7, 588.2, PINK), txt(701.3, 596.7, 'IFIT5 + PPP-RNA - 2.32 mg/ml'),
  sq(677.7, 613.2, RED), txt(701.3, 621.7, 'IFIT5 + PPP-RNA - 1.61 mg/ml'),
  // k
  txt(44.5, 1093, 'Porod-Debye'), txt(44.5, 1113, 'Plateau'),
  sq(417.5, 1338.5, DKGREEN), txt(441, 1347, 'IFIT5 - 3.97 mg/ml'),
  // l
  txt(669, 1078, 'Porod-Debye'), txt(669, 1098, 'Plateau'),
  sq(959, 1338.5, PINK), txt(982.5, 1347, 'IFIT5+PPP-RNA - 1.61 mg/ml'),
  txt(1216, 1482, '4', { textAlign: 'center', font: '16px ' + FONT })
];

const chart = echarts.init(document.getElementById('chart'), null, { renderer: 'canvas' });
chart.setOption({
  animation: false,
  backgroundColor: '#ffffff',
  textStyle: { fontFamily: FONT },
  grid, xAxis, yAxis, series, graphic
});
</script>
</body>
</html>
